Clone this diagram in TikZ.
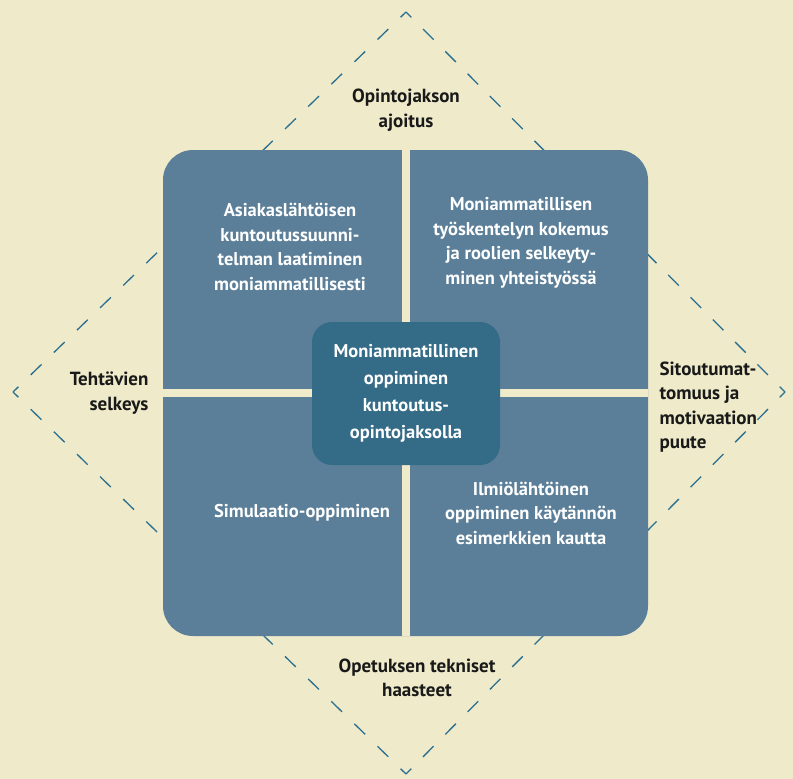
\documentclass[tikz,border=0pt]{standalone}
\usepackage{fontspec}
\setmainfont{PT Sans}
\usetikzlibrary{positioning}
\definecolor{paper}{HTML}{EEEACA}
\definecolor{tile}{HTML}{5B7F99}
\definecolor{core}{HTML}{346B87}
\definecolor{rim}{HTML}{2A6F90}
\tikzset{
  tiletext/.style={text=white, font=\bfseries\fontsize{18.5}{24.5}\selectfont, align=center},
  sidetext/.style={text=black!90, font=\bfseries\fontsize{19}{24.5}\selectfont},
  rimline/.style={draw=rim, line width=1.3pt, dash pattern=on 15pt off #1pt, dash phase=7.5pt},
}
\begin{document}
\begin{tikzpicture}[x=1pt,y=-1pt]
  \fill[paper] (0,0) rectangle (793,779);
  \useasboundingbox (0,0) rectangle (793,779);
  %diamond
  \coordinate (top) at (406,12);
  \coordinate (right) at (785,392);
  \coordinate (bottom) at (406,774);
  \coordinate (left) at (13,392);
  \draw[rimline=16.57] (top) -- (right);
  \draw[rimline=16.65] (right) -- (bottom);
  \draw[rimline=17.24] (bottom) -- (left);
  \draw[rimline=17.16] (left) -- (top);
  %tiles
  \fill[tile, rounded corners=30pt] (163,150) rectangle (648,636);
  \fill[paper] (402,150) rectangle (410,636);
  \fill[paper] (163,389) rectangle (648,397);
  \node[fill=core, rounded corners=20pt, minimum width=188pt, minimum height=143pt,
        tiletext, font=\bfseries\fontsize{18.5}{27}\selectfont] (centre) at (406,393.5)
    {Moniammatillinen\\oppiminen\\kuntoutus-\\opintojaksolla};
  %tile texts
  \node[tiletext] (plan) at (290,247)
    {Asiakaslähtöisen\\kuntoutussuunni-\\telman laatiminen\\moniammatillisesti};
  \node[tiletext] (roles) at (521,243)
    {Moniammatillisen\\työskentelyn kokemus\\ja roolien selkeyty-\\minen yhteistyössä};
  \node[tiletext] (sim) at (302,513) {Simulaatio-oppiminen};
  \node[tiletext] (phen) at (531,513)
    {Ilmiölähtöinen\\oppiminen käytännön\\esimerkkien kautta};
  %labels
  \node[sidetext, align=center] (timing) at (406,110) {Opintojakson\\ajoitus};
  \node[sidetext, align=right, anchor=east] (clarity) at (152,393) {Tehtävien\\selkeys};
  \node[sidetext, align=left, anchor=west] (commit) at (656,407)
    {Sitoutumat-\\tomuus ja\\motivaation\\puute};
  \node[sidetext, align=center] (tech) at (417,678) {Opetuksen tekniset\\haasteet};
\end{tikzpicture}
\end{document}
